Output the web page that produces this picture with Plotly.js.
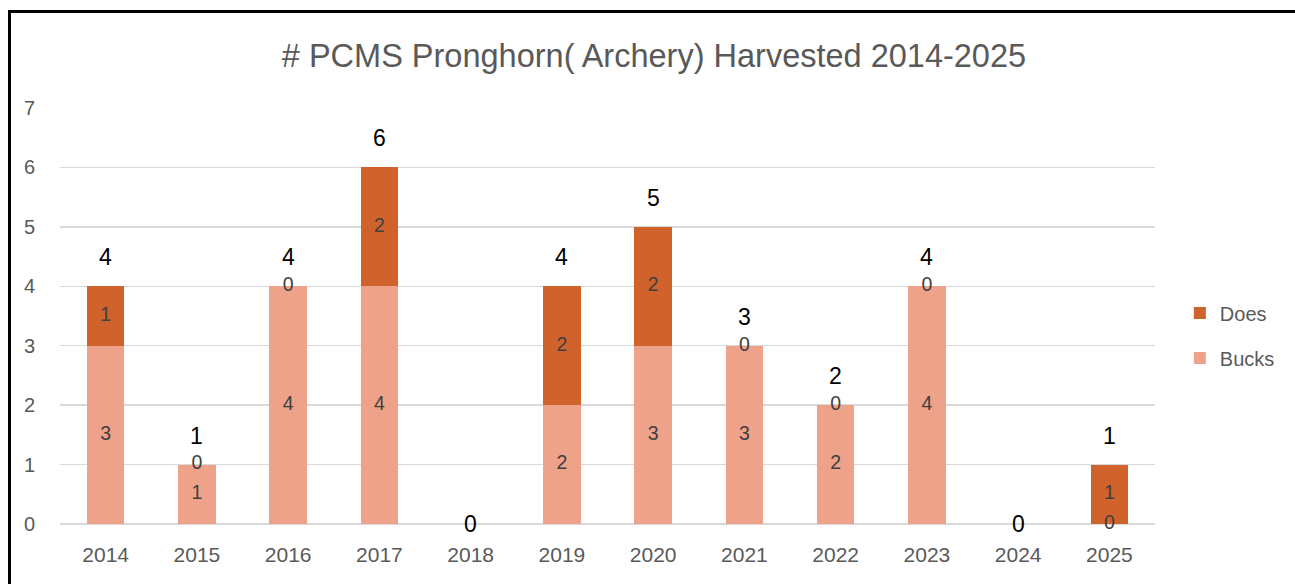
<!DOCTYPE html>
<html><head><meta charset="utf-8">
<script src="https://cdn.plot.ly/plotly-3.0.1.min.js"></script>
<style>html,body{margin:0;padding:0;background:#fff;}#chart{width:1295px;height:584px;position:relative;}
.bt{position:absolute;left:8px;top:10px;width:1287px;height:3px;background:#000;z-index:5}
.bl{position:absolute;left:8px;top:10px;width:3px;height:574px;background:#000;z-index:5}</style>
</head><body>
<div style="position:relative"><div id="chart"></div><div class="bt"></div><div class="bl"></div></div>
<script>
const years = ['2014','2015','2016','2017','2018','2019','2020','2021','2022','2023','2024','2025'];
const bucks = [3,1,4,4,0,2,3,3,2,4,0,0];
const does  = [1,0,0,2,0,2,2,0,0,0,0,1];
const totals = [4,1,4,6,0,4,5,3,2,4,0,1];

const FONT = 'Liberation Sans, Arial, sans-serif';
const idx = years.map((_,i)=>i);
const shown = idx.filter(i=>totals[i]>0);
const traces = [
  {type:'bar', name:'Bucks', legendgroup:'b', legendrank:2, x:idx, y:bucks, marker:{color:'#EEA28A'}, hoverinfo:'skip'},
  {type:'bar', name:'Does', legendgroup:'d', legendrank:1, x:idx, y:does, marker:{color:'#D0622B'}, hoverinfo:'skip'},
  {type:'scatter', mode:'text', showlegend:false, hoverinfo:'skip', cliponaxis:false,
   x:shown, y:shown.map(i=>bucks[i]/2),
   text:shown.map(i=>String(bucks[i])), textfont:{family:FONT,size:19.5,color:'#404040'}},
  {type:'scatter', mode:'text', showlegend:false, hoverinfo:'skip', cliponaxis:false,
   x:shown, y:shown.map(i=>bucks[i]+does[i]/2),
   text:shown.map(i=>String(does[i])), textfont:{family:FONT,size:19.5,color:'#404040'}}
];
const annotations = idx.map(i=>({
  x:i, y:totals[i], xref:'x', yref:'y', text:String(totals[i]), showarrow:false,
  yshift: totals[i]>0 ? 29 : 0, font:{family:FONT,size:23,color:'#000'}
}));
const layout = {
  width:1295, height:584,
  margin:{l:60, r:140, t:108, b:60, autoexpand:false},
  paper_bgcolor:'#fff', plot_bgcolor:'#fff',
  barmode:'stack', bargap:0.59,
  title:{text:'# PCMS Pronghorn( Archery) Harvested 2014-2025', font:{family:FONT,size:32.5,color:'#595959'}, x:0.505, xanchor:'center', y:0.905, yanchor:'middle'},
  xaxis:{range:[-0.5,11.5], tickvals:idx, ticktext:years, tickfont:{family:FONT,size:21,color:'#595959'}, showgrid:false, showline:false, zeroline:false, ticks:'', ticklabelstandoff:16},
  yaxis:{range:[0,7], dtick:1, tickfont:{family:FONT,size:20,color:'#595959'}, gridcolor:'#D9D9D9', gridwidth:1.5, zeroline:true, zerolinecolor:'#D9D9D9', zerolinewidth:1.5, showline:false, ticks:'', ticklabelstandoff:24},
  legend:{traceorder:'grouped', x:1.0227, xanchor:'left', y:0.453, yanchor:'middle', font:{family:FONT,size:20,color:'#595959'}, itemwidth:30, tracegroupgap:16},
  annotations:annotations,
  showlegend:true
};
Plotly.newPlot('chart', traces, layout, {displayModeBar:false, staticPlot:true});
</script>
</body></html>
